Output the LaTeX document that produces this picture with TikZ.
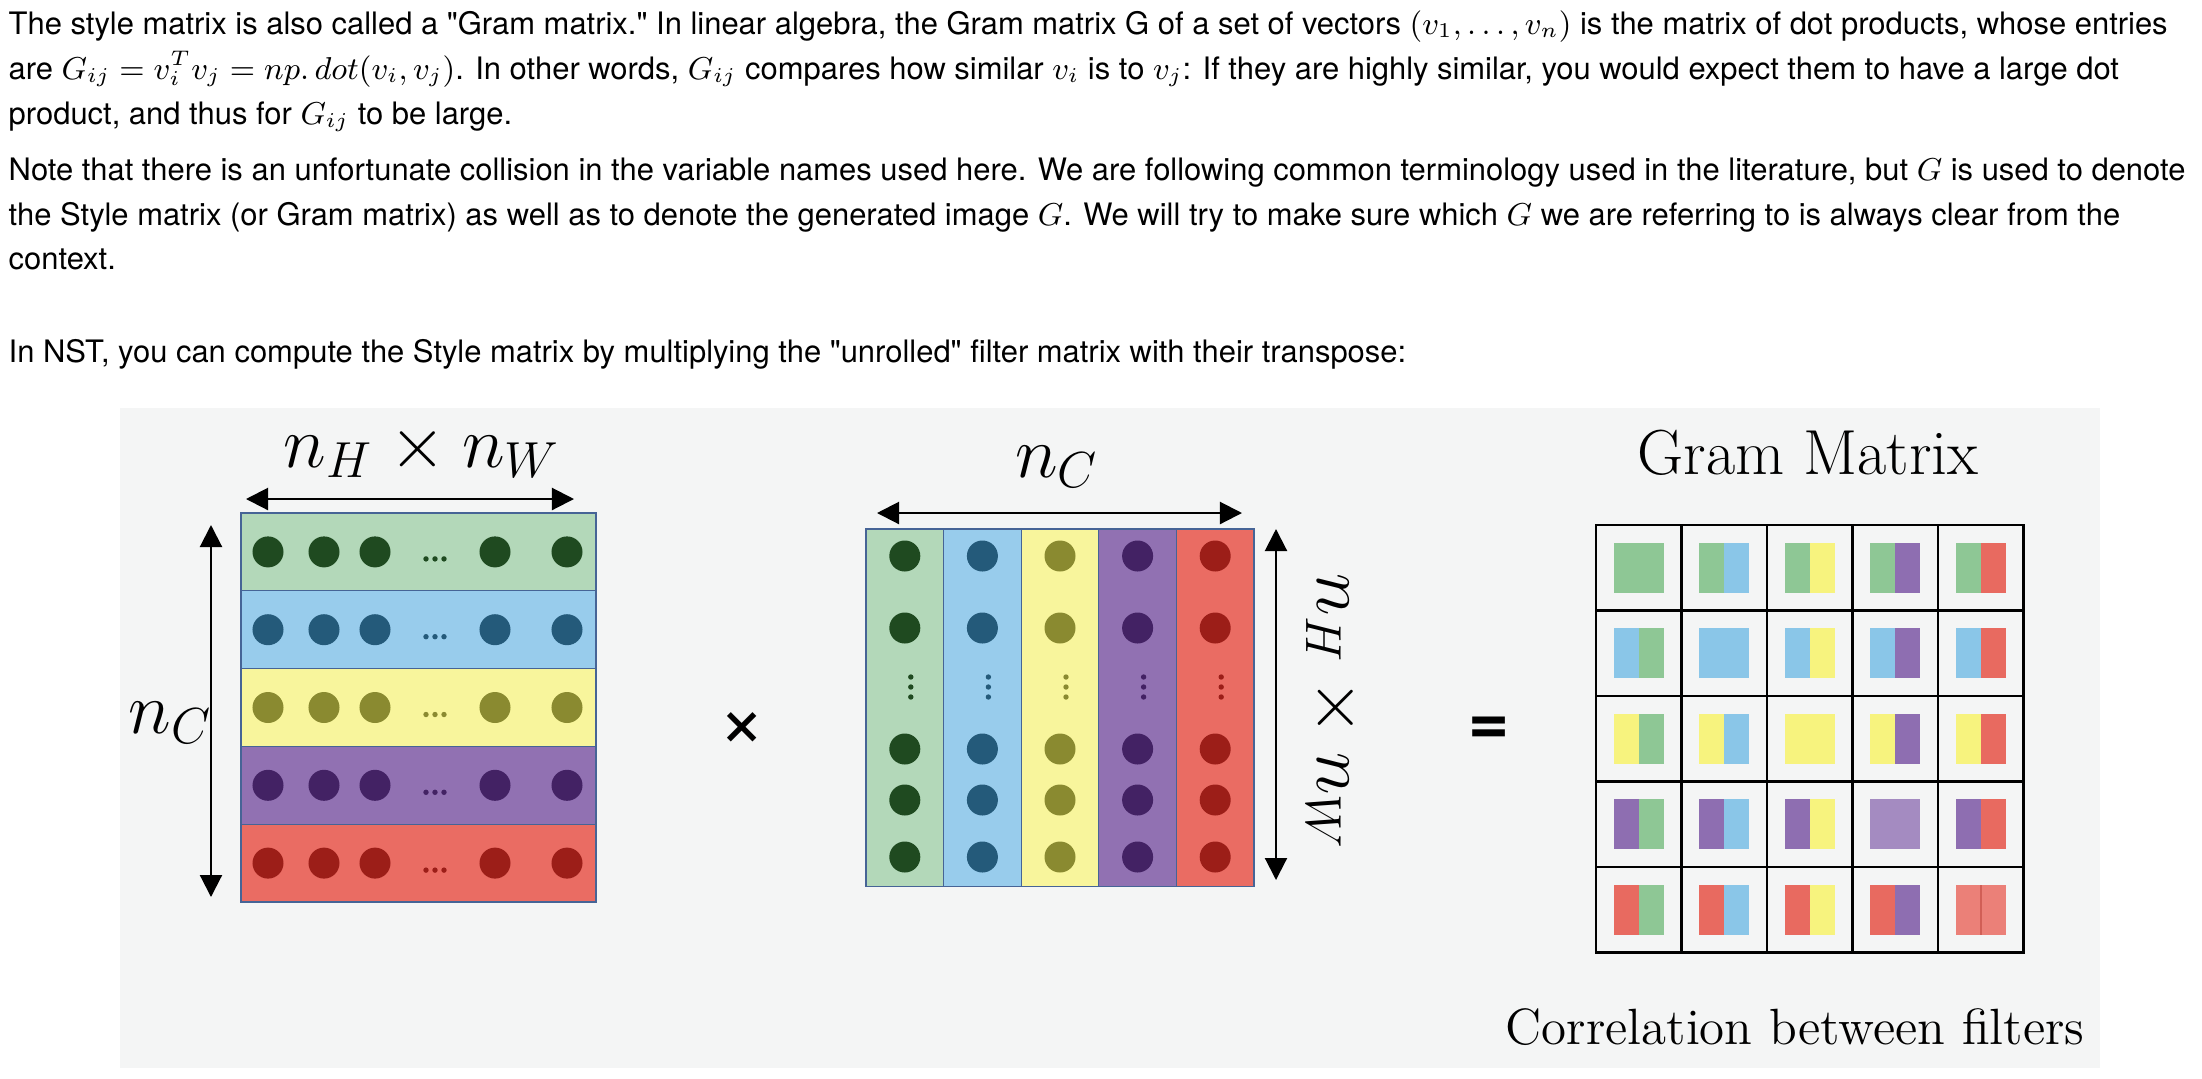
\documentclass[tikz,border=0pt]{standalone}
\usepackage{fontspec}
\newfontfamily\bodyfont{TeX Gyre Heros}
\usepackage{tikz}
\usetikzlibrary{arrows.meta}

\definecolor{bggray}{RGB}{244,245,245}
\definecolor{edgeblue}{RGB}{70,100,150}
\definecolor{rowgreen}{RGB}{179,216,185}
\definecolor{rowblue}{RGB}{152,204,236}
\definecolor{rowyellow}{RGB}{248,245,156}
\definecolor{rowpurple}{RGB}{145,113,178}
\definecolor{rowred}{RGB}{234,108,99}
\definecolor{dotgreen}{RGB}{31,74,32}
\definecolor{dotblue}{RGB}{36,90,122}
\definecolor{dotyellow}{RGB}{138,138,48}
\definecolor{dotpurple}{RGB}{67,34,100}
\definecolor{dotred}{RGB}{156,30,24}
\definecolor{gramgreen}{RGB}{142,199,149}
\definecolor{gramblue}{RGB}{138,198,232}
\definecolor{gramyellow}{RGB}{247,243,126}
\definecolor{grampurple}{RGB}{142,110,177}
\definecolor{gramred}{RGB}{232,106,96}

\tikzset{
  bodytext/.style={anchor=base west, inner sep=0pt, font=\bodyfont\fontsize{8.8}{10}\selectfont},
  rowbox/.style={draw=edgeblue, line width=0.35pt, inner sep=0pt, minimum width=3.55cm, minimum height=0.778cm},
  colbox/.style={draw=edgeblue, line width=0.35pt, inner sep=0pt, minimum width=0.776cm, minimum height=3.57cm},
  gramcell/.style={draw=black, line width=0.75pt, inner sep=0pt, minimum size=0.855cm},
  dimarrow/.style={{Triangle[length=0.22cm,width=0.22cm]}-{Triangle[length=0.22cm,width=0.22cm]}, line width=0.6pt},
  dimlabel/.style={inner sep=0pt, anchor=base, font=\fontsize{20.5}{24}\selectfont},
  oplabel/.style={inner sep=0pt, font=\bodyfont\fontsize{24}{28}\selectfont},
  gramlabel/.style={inner sep=0pt, anchor=base, font=\rmfamily\fontsize{18.1}{22}\selectfont},
}

\begin{document}
\begin{tikzpicture}[x=0.01cm, y=-0.01cm]
\useasboundingbox (0,0) rectangle (2202,1078);
\fill[white] (0,0) rectangle (2202,1078);

% text above the figure
\node[bodytext] (t1) at (8,34) {The style matrix is also called a "Gram matrix." In linear algebra, the Gram matrix G of a set of vectors $(v_{1}, \dots, v_{n})$ is the matrix of dot products, whose entries};
\node[bodytext] (t2) at (8,79) {are $G_{ij} = \smash{v_{i}^{T}} v_{j} = np.\,dot(v_{i}, v_{j})$. In other words, $G_{ij}$ compares how similar $v_{i}$ is to $v_{j}$: If they are highly similar, you would expect them to have a large dot};
\node[bodytext] (t3) at (8,124) {product, and thus for $G_{ij}$ to be large.};
\node[bodytext] (t4) at (8,180) {Note that there is an unfortunate collision in the variable names used here. We are following common terminology used in the literature, but $G$ is used to denote};
\node[bodytext] (t5) at (8,225) {the Style matrix (or Gram matrix) as well as to denote the generated image $G$. We will try to make sure which $G$ we are referring to is always clear from the};
\node[bodytext] (t6) at (8,269) {context.};
\node[bodytext] (t7) at (8,362) {In NST, you can compute the Style matrix by multiplying the "unrolled" filter matrix with their transpose:};

\fill[bggray] (120,408) rectangle (2100,1068);

% unrolled filter matrix
\foreach \f [count=\i] in {green,blue,yellow,purple,red}
{
\node[rowbox, fill=row\f] (row\i) at (418.5,{513+(\i-0.5)*77.8}) {};
\foreach \x in {268,324,375,495,567}
  \fill[dot\f] (\x,{513+(\i-0.5)*77.8}) circle[radius=0.155cm];
\foreach \x in {426,435,444}
  \fill[dot\f] (\x,{520+(\i-0.5)*77.8}) circle[radius=0.027cm];
}

% its transpose
\foreach \f [count=\i] in {green,blue,yellow,purple,red}
{
\node[colbox, fill=row\f] (col\i) at ({866+(\i-0.5)*77.6},707.5) {};
\foreach \y in {556,628,749,800,857}
  \fill[dot\f] ({866+(\i-0.5)*77.6},\y) circle[radius=0.155cm];
\foreach \y in {677,687,697}
  \fill[dot\f] ({872+(\i-0.5)*77.6},\y) circle[radius=0.027cm];
}

\coordinate (hwA) at (246,499);
\coordinate (hwB) at (574,499);
\coordinate (ncA) at (211,525);
\coordinate (ncB) at (211,897);
\coordinate (nctA) at (877,513);
\coordinate (nctB) at (1242,513);
\coordinate (hwsA) at (1276,529);
\coordinate (hwsB) at (1276,880);
\draw[dimarrow] (hwA) -- (hwB);
\draw[dimarrow] (ncA) -- (ncB);
\draw[dimarrow] (nctA) -- (nctB);
\draw[dimarrow] (hwsA) -- (hwsB);

\node[dimlabel] (hw) at (422,467) {$n_H \times n_W$};
\node[dimlabel, anchor=base west] (nc) at (128,733) {$n_C$};
\node[dimlabel] (nct) at (1057,477) {$n_C$};
\node[dimlabel, rotate=-90] (hws) at (1317,712) {$n_H \times n_W$};

\node[oplabel, font=\bodyfont\fontsize{23}{28}\selectfont] (times) at (742,730) {×};
\node[oplabel, font=\bodyfont\bfseries\fontsize{20}{24}\selectfont] (equals) at (1489,731) {=};

% gram matrix
\node[gramlabel] (gramtitle) at (1808,474) {Gram Matrix};
\foreach \rc [count=\gi] in {green,blue,yellow,purple,red}
\foreach \cc [count=\gj] in {green,blue,yellow,purple,red}
{
\node[gramcell] (g\gi\gj) at ({1596+(\gj-0.5)*85.5},{525+(\gi-0.5)*85.5}) {};
\fill[gram\rc] ([shift={(-25,-25)}]g\gi\gj.center) rectangle ([shift={(0,25)}]g\gi\gj.center);
\fill[gram\cc] ([shift={(0,-25)}]g\gi\gj.center) rectangle ([shift={(25,25)}]g\gi\gj.center);
}
\fill[grampurple!80!white] ([shift={(-25,-25)}]g44.center) rectangle ([shift={(25,25)}]g44.center);
\fill[gramred!85!white] ([shift={(-25,-25)}]g55.center) rectangle ([shift={(25,25)}]g55.center);
\fill[gramred!90!black] ([shift={(-0.8,-25)}]g55.center) rectangle ([shift={(0.8,25)}]g55.center);
\node[gramlabel, font=\rmfamily\fontsize{14.5}{17}\selectfont] (gramnote) at (1795,1044) {Correlation between filters};
\end{tikzpicture}
\end{document}
